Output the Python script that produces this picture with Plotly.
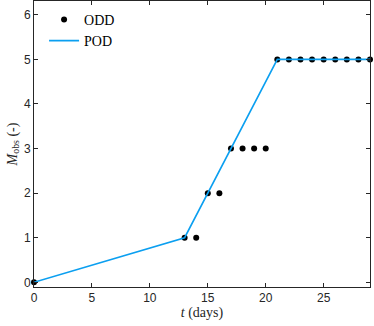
import plotly.graph_objects as go

odd_t = [0, 13, 14, 15, 16, 17, 18, 19, 20, 21, 22, 23, 24, 25, 26, 27, 28, 29]
odd_m = [0, 1, 1, 2, 2, 3, 3, 3, 3, 5, 5, 5, 5, 5, 5, 5, 5, 5]
pod_t = [0, 13, 21, 29]
pod_m = [0, 1, 5, 5]
x_ticks = [0, 5, 10, 15, 20, 25]
y_ticks = [0, 1, 2, 3, 4, 5, 6]

fig = go.Figure()
fig.add_trace(go.Scatter(x=odd_t, y=odd_m, mode="markers", name="ODD",
                         marker=dict(color="black", size=6), cliponaxis=False))
fig.add_trace(go.Scatter(x=pod_t, y=pod_m, mode="lines", name="POD",
                         line=dict(color="#0b9ff0", width=1.6), cliponaxis=False))

serif = "Liberation Serif, Times New Roman, serif"
axis_common = dict(showline=True, linecolor="#262626", linewidth=1, mirror="ticks",
                   ticks="inside", ticklen=4, tickcolor="#262626", showgrid=False,
                   zeroline=False, automargin=False,
                   tickfont=dict(family="Liberation Sans, Arial", size=12, color="#262626"))
fig.update_xaxes(range=[0, 29], tickvals=x_ticks, **axis_common,
                 title=dict(text="<i>t</i> (days)", font=dict(family=serif, size=14, color="#262626"), standoff=1))
fig.update_yaxes(range=[-0.105, 6.31], tickvals=y_ticks, **axis_common,
                 title=dict(text="<i>M</i><sub>obs</sub> (-)", font=dict(family=serif, size=14, color="#262626"), standoff=3))

fig.update_layout(width=374, height=326, margin=dict(l=34, r=4, t=1, b=39, autoexpand=False),
                  plot_bgcolor="white", paper_bgcolor="white",
                  legend=dict(x=0.03, y=0.99, xanchor="left", yanchor="top",
                              bgcolor="rgba(0,0,0,0)", font=dict(family=serif, size=14, color="black"),
                              tracegroupgap=0, itemwidth=30),
                  showlegend=True)
fig.write_html("out.html", config={"displayModeBar": False},
               post_script="document.body.style.margin='0';document.body.style.overflow='hidden';")
